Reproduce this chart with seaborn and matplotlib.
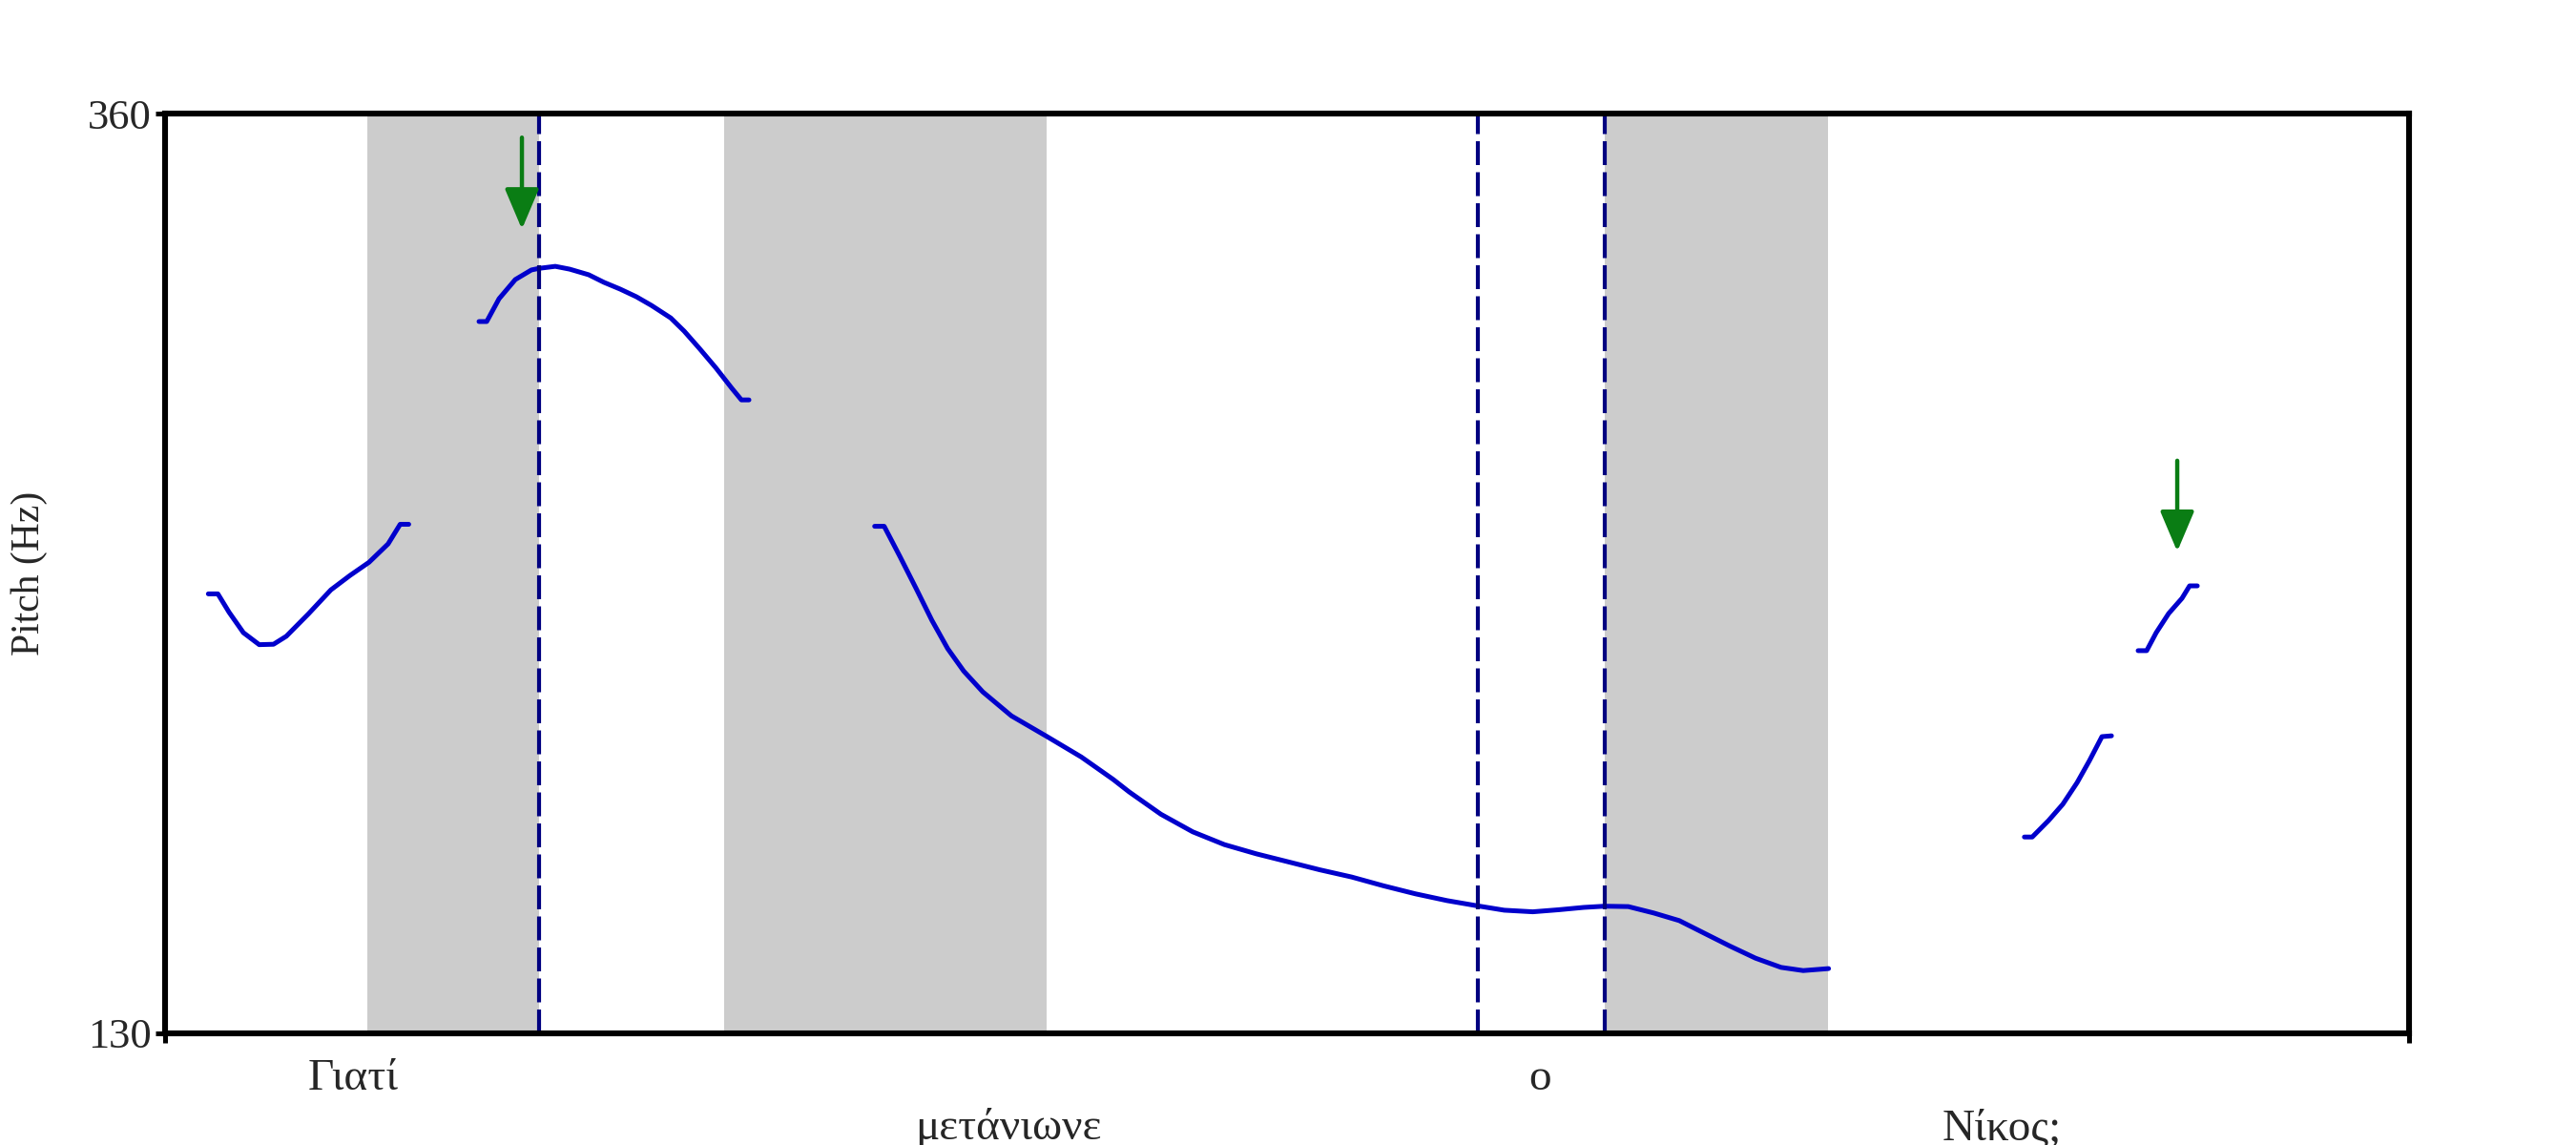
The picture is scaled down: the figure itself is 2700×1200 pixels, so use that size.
import numpy as np
import pandas as pd
import matplotlib
matplotlib.use("Agg")
import matplotlib.pyplot as plt
import seaborn as sns

# ---------------- data ----------------
# pitch contour segments (time in s, pitch in Hz)
seg1_t = [0.0308, 0.0376, 0.0456, 0.0558, 0.0671, 0.0773, 0.0864, 0.1022, 0.1182, 0.1318, 0.1454, 0.1590, 0.1676, 0.1737]
seg1_f = [239.9, 239.9, 235.3, 230.2, 227.2, 227.3, 229.3, 234.9, 240.9, 244.5, 247.8, 252.4, 257.3, 257.3]

seg2_t = [0.2238, 0.2293, 0.2381, 0.2497, 0.2612, 0.2667, 0.2782, 0.2884, 0.3020, 0.3129, 0.3245, 0.3360,
          0.3469, 0.3605, 0.3701, 0.3809, 0.3925, 0.4041, 0.4109, 0.4163]
seg2_f = [308.0, 308.0, 313.7, 318.5, 320.9, 321.3, 321.8, 321.1, 319.7, 317.8, 316.1, 314.2,
          312.0, 308.9, 305.6, 301.3, 296.5, 291.3, 288.4, 288.4]

seg3_t = [0.5059, 0.5127, 0.5240, 0.5354, 0.5467, 0.5580, 0.5694, 0.5830, 0.6034, 0.6284, 0.6533, 0.6760,
          0.6873, 0.7100, 0.7327, 0.7553, 0.7780, 0.8007, 0.8233, 0.8460, 0.8687, 0.8914, 0.9140, 0.9355,
          0.9548, 0.9752, 0.9933, 1.0116, 1.0263, 1.0433, 1.0614, 1.0796, 1.0977, 1.1159, 1.1340, 1.1522,
          1.1680, 1.1861]
seg3_f = [256.8, 256.8, 249.2, 241.3, 233.3, 226.2, 220.6, 215.4, 209.4, 204.3, 199.1, 193.5,
          190.4, 184.8, 180.4, 177.2, 174.9, 172.9, 170.9, 169.1, 166.9, 164.9, 163.2, 161.9,
          160.8, 160.4, 160.9, 161.5, 161.8, 161.7, 160.1, 158.2, 155.0, 151.8, 148.8, 146.5,
          145.7, 146.2]

seg4_t = [1.3257, 1.3313, 1.3429, 1.3531, 1.3633, 1.3721, 1.3810, 1.3878]
seg4_f = [179.1, 179.1, 183.2, 187.3, 192.7, 198.2, 204.2, 204.4]

seg5_t = [1.4068, 1.4129, 1.4197, 1.4286, 1.4381, 1.4435, 1.4490]
seg5_f = [225.7, 225.7, 230.2, 235.0, 238.8, 241.9, 241.9]

# shaded (stressed) intervals
band_start = [0.1442, 0.3986, 1.0265]
band_end = [0.2667, 0.6286, 1.1857]

# dashed boundaries
boundaries = [0.2667, 0.9361, 1.0265]

# green arrows: time, start Hz, tip Hz
arrow_t = [0.2544, 1.4347]
arrow_from = [354.0, 273.2]
arrow_to = [331.1, 250.5]

# words under the axis
words = ["Γιατί", "μετάνιωνε", "ο", "Νίκος;"]
word_t = [0.134, 0.601, 0.980, 1.310]
word_row = [0, 1, 0, 1]

t_min, t_max = 0.0, 1.6
f_min, f_max = 130, 360
ytick_vals = [130, 360]
ylabel = "Pitch (Hz)"

# ---------------- figure ----------------
sns.set_style("ticks")
plt.rcParams["font.family"] = ["Liberation Serif", "DejaVu Serif"]

fig = plt.figure(figsize=(27, 12), dpi=100)
ax = fig.add_axes([0.0641, 0.0975, 0.8711, 0.8033])

for s, e in zip(band_start, band_end):
    ax.axvspan(s, e, color="#cccccc", lw=0, zorder=0)

rows = []
for i, (tt, ff) in enumerate([(seg1_t, seg1_f), (seg2_t, seg2_f), (seg3_t, seg3_f),
                              (seg4_t, seg4_f), (seg5_t, seg5_f)]):
    for a, b in zip(tt, ff):
        rows.append({"seg": i, "time": a, "pitch": b})
df = pd.DataFrame(rows)

sns.lineplot(data=df, x="time", y="pitch", units="seg", estimator=None, sort=False,
             color="#0000cc", linewidth=3.6, ax=ax, zorder=3,
             solid_capstyle="round", solid_joinstyle="round")

for b in boundaries:
    ax.axvline(b, color="#000080", lw=3.0, dashes=(6.0, 1.8), zorder=4)

for t, a, b in zip(arrow_t, arrow_from, arrow_to):
    ax.annotate("", xy=(t, b), xytext=(t, a),
                arrowprops=dict(arrowstyle="-|>,head_length=1.3,head_width=0.55",
                                color="#0a7d14", lw=3.2, mutation_scale=20,
                                shrinkA=0, shrinkB=0), zorder=5)

ax.set_xlim(t_min, t_max)
ax.set_ylim(f_min, f_max)
ax.set_yticks(ytick_vals)
ax.set_yticklabels([str(v) for v in ytick_vals], fontsize=32)
ax.set_xticks([t_min, t_max])
ax.set_xticklabels(["", ""])
ax.tick_params(axis="both", direction="out", length=7, width=3.6, pad=3, color="black")
ax.set_xlabel("")
ax.set_ylabel(ylabel, fontsize=30)
ax.yaxis.set_label_coords(-0.0523, 0.5)

for sp in ax.spines.values():
    sp.set_linewidth(4.4)
    sp.set_color("black")
    sp.set_zorder(6)

trans = matplotlib.transforms.blended_transform_factory(ax.transData, ax.transAxes)
row_y = [-0.0498, -0.1037]
for w, t, r in zip(words, word_t, word_row):
    ax.text(t, row_y[r], w, transform=trans, ha="center", va="center", fontsize=34)

fig.savefig("out.png", dpi=100, facecolor="white")
